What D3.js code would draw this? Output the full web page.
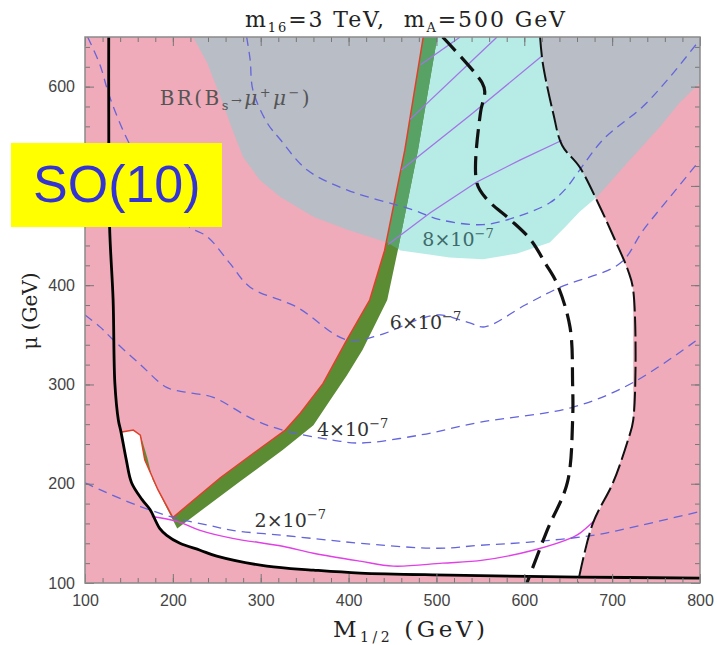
<!DOCTYPE html>
<html>
<head>
<meta charset="utf-8">
<script src="https://cdn.jsdelivr.net/npm/d3@7"></script>
<style>
  body { margin: 0; background: #fff; }
  text { white-space: pre; }
</style>
</head>
<body>
<script>
// ---- data (M1/2 in GeV, mu in GeV) ----
// solid black boundary (left / bottom)
const blackX = [127,127,128,132,134,138,141,147,153,165,174,185,193,208,231,250,307,360,413,515,663,800];
const blackY = [650,587,459,385,301,264,252,224,201,184,174,155,148,140,133,127,117,113,110,108,106,105];

// red edge (upper-left side of the green band)
const redX = [142,155,163,168,183,200,254,303,328,345,371,398,424,441,464,485];
const redY = [252,254,249,224,194,166,206,238,254,271,301,345,385,435,536,650];

// lower/right edge of the green band (top -> tip -> shoulder)
const greenX = [501,479,456,444,416,398,379,360,325,276,205,191,177,171,165];
const greenY = [650,536,435,385,335,309,284,259,234,202,155,179,204,226,244];

// right long-dashed black line
const rDashX = [618,621,633,643,663,686,703,718,724,724,718,701,678,661];
const rDashY = [650,624,573,541,519,479,446,415,395,264,244,201,160,100];

// left heavy dashed black line
const lDashX = [507,552,555,550,546,558,584,607,624,637,652,655,655,649,626,603];
const lDashY = [650,604,595,573,503,486,466,446,422,402,358,301,264,201,153,100];

// BR(Bs->mu mu) excluded region
const brX = [223,239,254,268,280,299,322,360,398,444,459,515,553,592,629,646,663,683,717,754,777,800,800];
const brY = [650,624,590,556,529,506,489,469,456,443,435,428,426,432,443,458,474,489,523,559,584,604,650];

// magenta solid line
const magX = [176,205,231,268,325,360,413,451,507,553,610,655,663,680];
const magY = [167,162,153,145,137,130,122,117,120,123,133,146,150,163];

// BR contours (dashed blue)
const c2X = [100,117,163,205,242,268,325,379,413,501,550,603,678,732,800];
const c2Y = [201,194,177,165,158,153,148,143,140,135,138,141,148,158,172];
const c4X = [100,117,132,163,193,216,246,291,325,382,413,481,550,655,724,800];
const c4Y = [370,358,345,320,297,292,287,265,254,244,241,249,262,277,302,347];
const c6X = [103,117,128,148,174,197,220,239,265,288,341,398,436,481,504,538,555,601,641,709,735,766,800];
const c6Y = [650,622,590,547,506,476,458,449,422,398,378,345,350,366,370,362,358,380,398,422,455,489,526];
const c8X = [284,288,291,307,322,353,398,473,504,553,592,629,646,663,690,735,766,797,800];
const c8Y = [650,627,597,564,547,516,496,476,466,461,469,483,496,516,547,580,610,644,647];

// violet solid hatch lines in the cyan region
const hatchX = [[482,527],[470,569],[460,538,619],[445,493,546,595,643]];
const hatchY = [[622,650],[567,650],[516,571,630],[441,473,504,526,546]];

// contour labels and their positions
const contourLabels = ["2", "4", "6", "8"];
const contourLabelX = [293, 364, 447, 484];
const contourLabelY = [156, 248, 356, 439];

const xMajor = [100,200,300,400,500,600,700,800];
const yMajor = [100,200,300,400,500,600];
const yHidden = [500];   // covered by the SO(10) box in the figure
const xMinor = d3.range(100, 801, 20);
const yMinor = d3.range(100, 651, 20);

// ---- layout ----
const W = 717, H = 645;
const margin = { top: 37, right: 17, bottom: 62, left: 85 },
      width = W - margin.left - margin.right,
      height = H - margin.top - margin.bottom;

const svg = d3.select("body").append("svg")
    .attr("width", W).attr("height", H);

const x = d3.scaleLinear().domain([100, 800]).range([0, width]);
const y = d3.scaleLinear().domain([100, 650]).range([height, 0]);

const zip = (xs, ys) => xs.map((v, i) => [v, ys[i]]);
const line = d3.line().x(d => x(d[0])).y(d => y(d[1]));
const smooth = d3.line().x(d => x(d[0])).y(d => y(d[1])).curve(d3.curveCatmullRom.alpha(0.5));

const defs = svg.append("defs");
defs.append("clipPath").attr("id", "plotClip")
    .append("rect").attr("width", width).attr("height", height);

// allowed (white) region: red edge, top, right dashed line, black line back
const redPts = zip(redX, redY);
const blackPts = zip(blackX, blackY);
const rDashPts = zip(rDashX, rDashY);
const whitePoly = redPts
    .concat(rDashPts.slice(0, -1))
    .concat([[663, 106]])
    .concat(blackPts.filter(p => p[0] < 660 && p[1] < 252).reverse());
defs.append("clipPath").attr("id", "whiteClip")
    .append("path").attr("d", line(whitePoly) + "Z");

const brPts = zip(brX, brY);
defs.append("clipPath").attr("id", "brClip")
    .append("path").attr("d", line(brPts) + "Z");

const g = svg.append("g").attr("transform", `translate(${margin.left},${margin.top})`);
const plot = g.append("g").attr("clip-path", "url(#plotClip)");

// pink background
plot.append("rect").attr("width", width).attr("height", height).attr("fill", "#efabb9");
// BR excluded region over pink
plot.append("path").attr("d", line(brPts) + "Z").attr("fill", "#b8bdc6");
// allowed region
plot.append("path").attr("d", line(whitePoly) + "Z").attr("fill", "#ffffff");
// BR excluded region over allowed region
plot.append("path").attr("d", line(brPts) + "Z").attr("fill", "#b7ebe6")
    .attr("clip-path", "url(#whiteClip)");

// green band
const bandPts = redPts.slice(2).concat(zip(greenX, greenY));
plot.append("path").attr("d", line(bandPts) + "Z").attr("fill", "#5b8c34");
plot.append("path").attr("d", line(bandPts) + "Z").attr("fill", "#58a266")
    .attr("clip-path", "url(#brClip)");
plot.append("path").attr("d", line(redPts)).attr("fill", "none")
    .attr("stroke", "#e0402a").attr("stroke-width", 1.5);

// hatch lines
hatchX.forEach((xs, i) => {
    plot.append("path").attr("d", line(zip(xs, hatchY[i])))
        .attr("fill", "none").attr("stroke", "#a274e6").attr("stroke-width", 1.3);
});

// magenta line
plot.append("path").attr("d", smooth(zip(magX, magY)))
    .attr("fill", "none").attr("stroke", "#e040e6").attr("stroke-width", 1.4);

// BR contours
[[c2X, c2Y], [c4X, c4Y], [c6X, c6Y], [c8X, c8Y]].forEach(([xs, ys]) => {
    plot.append("path").attr("d", smooth(zip(xs, ys)))
        .attr("fill", "none").attr("stroke", "#6464dc").attr("stroke-width", 1.3)
        .attr("stroke-dasharray", "9,6");
});

// black lines
plot.append("path").attr("d", smooth(blackPts))
    .attr("fill", "none").attr("stroke", "#000").attr("stroke-width", 2.8);
plot.append("path").attr("d", smooth(zip(lDashX, lDashY)))
    .attr("fill", "none").attr("stroke", "#111").attr("stroke-width", 3.2)
    .attr("stroke-dasharray", "19,8");
plot.append("path").attr("d", smooth(rDashPts))
    .attr("fill", "none").attr("stroke", "#111").attr("stroke-width", 2)
    .attr("stroke-dasharray", "20,5");

// contour labels
contourLabels.forEach((lab, i) => {
    const t = plot.append("text")
        .attr("x", x(contourLabelX[i])).attr("y", y(contourLabelY[i]))
        .style("font-family", "DejaVu Serif").style("font-size", "19px")
        .attr("fill", i === 3 ? "#3f6b6b" : "#333");
    t.append("tspan").text(lab + "\u00d710");
    t.append("tspan").attr("dy", -8).style("font-size", "13px").text("\u2212" + "7");
});

// BR label
const br = plot.append("text").attr("x", x(185)).attr("y", y(581))
    .attr("textLength", 150).attr("lengthAdjust", "spacing")
    .style("font-family", "DejaVu Serif").style("font-size", "20px").attr("fill", "#555");
br.append("tspan").text("BR(B");
br.append("tspan").attr("dy", 5).style("font-size", "13px").text("s");
br.append("tspan").attr("dy", -5).style("font-size", "13px").text("\u2192");
br.append("tspan").style("font-style", "italic").text("\u03bc");
br.append("tspan").attr("dy", -8).style("font-size", "13px").text("+");
br.append("tspan").attr("dy", 8).style("font-style", "italic").text("\u03bc");
br.append("tspan").attr("dy", -8).style("font-size", "13px").text("\u2212");
br.append("tspan").attr("dy", 8).text(")");

// ---- axes with inward ticks on all sides ----
const tickColor = "#777";
function styleAxis(sel) {
    sel.select(".domain").remove();
    sel.selectAll("line").attr("stroke", tickColor);
    sel.selectAll("text").style("font-family", "Liberation Sans, Arial, sans-serif")
        .style("font-size", "16px").attr("fill", "#444");
}
g.append("g").attr("transform", `translate(0,${height})`)
    .call(d3.axisBottom(x).tickValues(xMinor).tickSizeInner(-5).tickSizeOuter(0).tickFormat(""))
    .call(styleAxis);
g.append("g").attr("transform", `translate(0,${height})`)
    .call(d3.axisBottom(x).tickValues(xMajor).tickSizeInner(-9).tickSizeOuter(0).tickPadding(12).tickFormat(d3.format("d")))
    .call(styleAxis);
g.append("g")
    .call(d3.axisTop(x).tickValues(xMinor).tickSizeInner(-5).tickSizeOuter(0).tickFormat(""))
    .call(styleAxis);
g.append("g")
    .call(d3.axisTop(x).tickValues(xMajor).tickSizeInner(-9).tickSizeOuter(0).tickFormat(""))
    .call(styleAxis);
g.append("g")
    .call(d3.axisLeft(y).tickValues(yMinor).tickSizeInner(-5).tickSizeOuter(0).tickFormat(""))
    .call(styleAxis);
g.append("g")
    .call(d3.axisLeft(y).tickValues(yMajor).tickSizeInner(-9).tickSizeOuter(0).tickPadding(10)
        .tickFormat(d => yHidden.includes(d) ? "" : d3.format("d")(d)))
    .call(styleAxis);
g.append("g").attr("transform", `translate(${width},0)`)
    .call(d3.axisRight(y).tickValues(yMinor).tickSizeInner(-5).tickSizeOuter(0).tickFormat(""))
    .call(styleAxis);
g.append("g").attr("transform", `translate(${width},0)`)
    .call(d3.axisRight(y).tickValues(yMajor).tickSizeInner(-9).tickSizeOuter(0).tickFormat(""))
    .call(styleAxis);

// frame
g.append("rect").attr("width", width).attr("height", height)
    .attr("fill", "none").attr("stroke", "#8a8a8a").attr("stroke-width", 1.5);

// title
const title = svg.append("text").attr("x", 245).attr("y", 27)
    .attr("textLength", 320).attr("lengthAdjust", "spacing")
    .style("font-family", "DejaVu Serif").style("font-size", "22px").attr("fill", "#222");
title.append("tspan").text("m");
title.append("tspan").attr("dy", 5).style("font-size", "13px").text("16");
title.append("tspan").attr("dy", -5).text("=3 TeV,  m");
title.append("tspan").attr("dy", 5).style("font-size", "13px").text("A");
title.append("tspan").attr("dy", -5).text("=500 GeV");

// x label
const xl = svg.append("text").attr("x", 333).attr("y", 637)
    .attr("textLength", 152).attr("lengthAdjust", "spacing")
    .style("font-family", "DejaVu Serif").style("font-size", "23px").attr("fill", "#222");
xl.append("tspan").text("M");
xl.append("tspan").attr("dy", 5).style("font-size", "14px").text("1/2");
xl.append("tspan").attr("dy", -5).text(" (GeV)");

// y label
svg.append("text").attr("transform", "translate(37,311) rotate(-90)").attr("text-anchor", "middle")
    .style("font-family", "DejaVu Serif").style("font-size", "20px").attr("fill", "#222")
    .text("\u03bc (GeV)");

// SO(10) box
svg.append("rect").attr("x", 11).attr("y", 143).attr("width", 211).attr("height", 84).attr("fill", "#ffff00");
svg.append("text").attr("x", 33).attr("y", 202)
    .style("font-family", "Liberation Sans, Arial, sans-serif").style("font-size", "52px")
    .attr("fill", "#3434d4").text("SO(10)");
</script>
</body>
</html>
